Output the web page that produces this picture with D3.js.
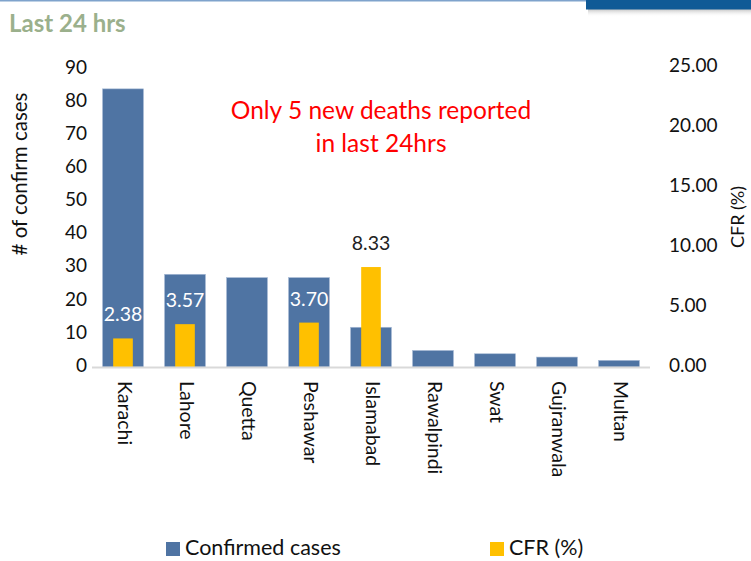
<!DOCTYPE html>
<html>
<head>
<meta charset="utf-8">
<script src="https://cdn.jsdelivr.net/npm/d3@7"></script>
<style>
  body { margin: 0; background: #fff; }
  svg { display: block; font-family: Lato, "Open Sans", sans-serif; }
</style>
</head>
<body>
<div id="chart"></div>
<script>
// data
const cities = ['Karachi', 'Lahore', 'Quetta', 'Peshawar', 'Islamabad', 'Rawalpindi', 'Swat', 'Gujranwala', 'Multan'];
const confirmed = [84, 28, 27, 27, 12, 5, 4, 3, 2];
const cfr = [2.38, 3.57, null, 3.70, 8.33, null, null, null, null];
const casesTicks = [0, 10, 20, 30, 40, 50, 60, 70, 80, 90];
const cfrTicks = [0, 5, 10, 15, 20, 25];

const W = 751, H = 561;
const svg = d3.select("#chart").append("svg")
  .attr("width", W)
  .attr("height", H);

// header decoration
const defs = svg.append("defs");
const grad = defs.append("linearGradient").attr("id", "shadow")
  .attr("x1", 0).attr("y1", 0).attr("x2", 0).attr("y2", 1);
grad.append("stop").attr("offset", "0%").attr("stop-color", "#999").attr("stop-opacity", 0.6);
grad.append("stop").attr("offset", "100%").attr("stop-color", "#fff").attr("stop-opacity", 0);

svg.append("rect").attr("x", 0).attr("y", 0).attr("width", 590).attr("height", 1.5).attr("fill", "#7fa3cc");
svg.append("rect").attr("x", 588).attr("y", 9).attr("width", 163).attr("height", 8).attr("fill", "url(#shadow)");
svg.append("rect").attr("x", 586).attr("y", 0).attr("width", 165).attr("height", 9.5).attr("fill", "#105a96");

svg.append("text")
  .attr("x", 9).attr("y", 32)
  .attr("font-size", 24).attr("font-weight", "bold")
  .attr("fill", "#9bb08c")
  .text("Last 24 hrs");

// scales
const x = d3.scaleBand().domain(cities).range([92, 650]).paddingInner(0.34).paddingOuter(0.17);
const y = d3.scaleLinear().domain([0, 90]).range([367, 69]);
const y2 = d3.scaleLinear().domain([0, 25]).range([367, 67]);

// confirmed bars
svg.selectAll("rect.cases")
  .data(cities)
  .enter()
  .append("rect")
  .attr("class", "cases")
  .attr("x", d => x(d))
  .attr("y", (d, i) => y(confirmed[i]))
  .attr("width", x.bandwidth())
  .attr("height", (d, i) => y(0) - y(confirmed[i]))
  .attr("fill", "#4f74a3")
  .attr("stroke", "#a9bcd6")
  .attr("stroke-width", 0.6);

// cfr bars
const cfrData = cities.map((c, i) => ({ city: c, v: cfr[i], n: confirmed[i] })).filter(d => d.v != null);
const yw = x.bandwidth() * 0.48;

svg.selectAll("rect.cfr")
  .data(cfrData)
  .enter()
  .append("rect")
  .attr("class", "cfr")
  .attr("x", d => x(d.city) + (x.bandwidth() - yw) / 2)
  .attr("y", d => y2(d.v))
  .attr("width", yw)
  .attr("height", d => y2(0) - y2(d.v))
  .attr("fill", "#ffc000");

svg.selectAll("text.cfrlab")
  .data(cfrData)
  .enter()
  .append("text")
  .attr("class", "cfrlab")
  .attr("x", d => x(d.city) + x.bandwidth() / 2)
  .attr("y", d => y2(d.v) - 22)
  .attr("text-anchor", "middle")
  .attr("dominant-baseline", "middle")
  .attr("font-size", 19.5)
  .attr("fill", d => y(d.n) < y2(d.v) - 28 ? "#fff" : "#222")
  .text(d => d.v.toFixed(2));

// axis baseline
svg.append("line")
  .attr("x1", 92).attr("x2", 650)
  .attr("y1", y(0) + 0.5).attr("y2", y(0) + 0.5)
  .attr("stroke", "#d9d9d9").attr("stroke-width", 2);

// left axis labels
svg.selectAll("text.ly")
  .data(casesTicks)
  .enter()
  .append("text")
  .attr("x", 87)
  .attr("y", d => y(d))
  .attr("text-anchor", "end")
  .attr("dominant-baseline", "middle")
  .attr("font-size", 19)
  .attr("fill", "#111")
  .text(d => d);

// right axis labels
svg.selectAll("text.ry")
  .data(cfrTicks)
  .enter()
  .append("text")
  .attr("x", 669)
  .attr("y", d => y2(d))
  .attr("dominant-baseline", "middle")
  .attr("font-size", 19)
  .attr("fill", "#111")
  .text(d => d.toFixed(2));

// category labels
svg.selectAll("text.cat")
  .data(cities)
  .enter()
  .append("text")
  .attr("transform", d => "translate(" + (x(d) + x.bandwidth() / 2) + ",381) rotate(90)")
  .attr("dominant-baseline", "middle")
  .attr("font-size", 19.5)
  .attr("fill", "#111")
  .text(d => d);

// axis titles
svg.append("text")
  .attr("transform", "translate(22,174) rotate(-90)")
  .attr("text-anchor", "middle")
  .attr("dominant-baseline", "middle")
  .attr("font-size", 20.5)
  .attr("fill", "#111")
  .text("# of confirm cases");

svg.append("text")
  .attr("transform", "translate(739,217) rotate(-90)")
  .attr("text-anchor", "middle")
  .attr("dominant-baseline", "middle")
  .attr("font-size", 18)
  .attr("fill", "#111")
  .text("CFR (%)");

// annotation
const note = svg.append("text")
  .attr("text-anchor", "middle")
  .attr("font-size", 24.5)
  .attr("fill", "#ff0000");
note.append("tspan").attr("x", 381).attr("y", 119).text("Only 5 new deaths reported");
note.append("tspan").attr("x", 381).attr("y", 152).text("in last 24hrs");

// legend
const legend = [
  { label: "Confirmed cases", color: "#4f74a3", x: 166 },
  { label: "CFR (%)", color: "#ffc000", x: 490 }
];
const lg = svg.selectAll("g.leg")
  .data(legend)
  .enter()
  .append("g")
  .attr("transform", d => "translate(" + d.x + ",542)");
lg.append("rect").attr("width", 14).attr("height", 14).attr("fill", d => d.color);
lg.append("text")
  .attr("x", 19).attr("y", 8)
  .attr("dominant-baseline", "middle")
  .attr("font-size", 21.5)
  .attr("fill", "#111")
  .text(d => d.label);
</script>
</body>
</html>
